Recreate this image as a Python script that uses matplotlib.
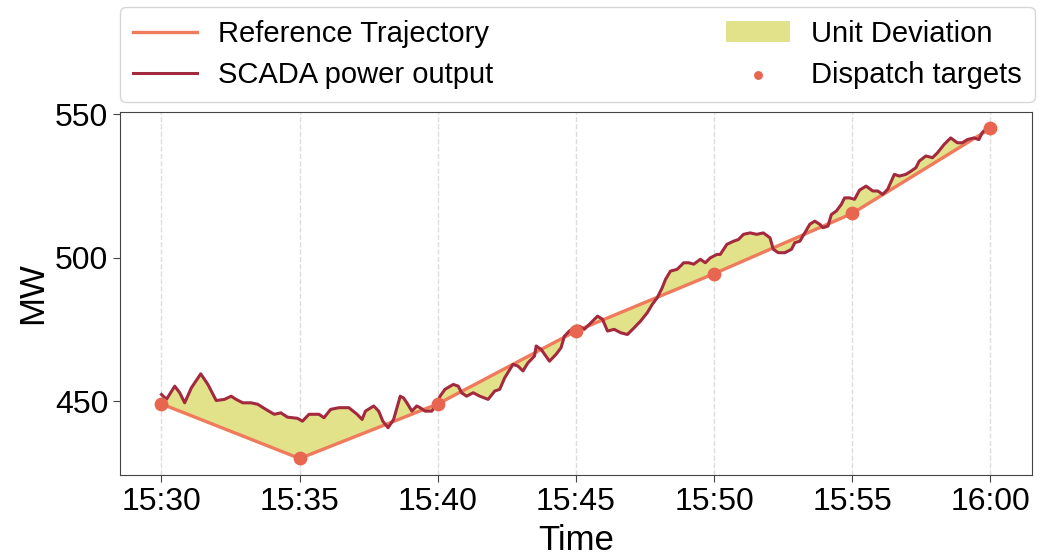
import numpy as np
import matplotlib
matplotlib.use("Agg")
import matplotlib.pyplot as plt

plt.rcParams['font.family'] = ['Liberation Sans', 'DejaVu Sans']

# minutes after 15:30
tick_minutes = [0, 5, 10, 15, 20, 25, 30]
tick_labels = ['15:30', '15:35', '15:40', '15:45', '15:50', '15:55', '16:00']

# dispatch targets (MW) at each 5-minute mark
target_minutes = [0, 5, 10, 15, 20, 25, 30]
target_mw = [449.0, 430.0, 449.0, 474.4, 494.4, 515.4, 545.0]

# SCADA power output
scada_minutes = [
    0.00, 0.18, 0.48, 0.66, 0.84, 1.08, 1.42, 1.68, 1.98, 2.28,
    2.52, 2.70, 2.94, 3.24, 3.48, 3.78, 4.08, 4.32, 4.56, 4.92,
    5.10, 5.34, 5.70, 5.88, 6.12, 6.42, 6.78, 7.08, 7.26, 7.38,
    7.68, 7.86, 8.01, 8.20, 8.40, 8.52, 8.64, 8.76, 8.88, 9.06,
    9.24, 9.36, 9.54, 9.78, 9.96, 10.08, 10.26, 10.56, 10.74, 10.86,
    11.04, 11.28, 11.52, 11.82, 12.06, 12.24, 12.42, 12.72, 12.90, 13.08,
    13.26, 13.50, 13.56, 13.74, 14.04, 14.28, 14.46, 14.58, 14.76, 15.00,
    15.12, 15.30, 15.48, 15.78, 15.96, 16.14, 16.38, 16.62, 16.86, 17.10,
    17.34, 17.58, 17.76, 17.94, 18.12, 18.24, 18.42, 18.66, 18.90, 19.08,
    19.26, 19.50, 19.68, 19.86, 20.10, 20.22, 20.46, 20.70, 20.88, 21.06,
    21.30, 21.54, 21.78, 22.02, 22.14, 22.32, 22.56, 22.80, 22.92, 23.10,
    23.28, 23.46, 23.64, 23.82, 23.94, 24.12, 24.24, 24.42, 24.60, 24.72,
    24.90, 25.08, 25.26, 25.50, 25.74, 25.92, 26.10, 26.28, 26.52, 26.70,
    26.94, 27.12, 27.30, 27.42, 27.66, 27.90, 28.08, 28.32, 28.56, 28.80,
    28.98, 29.16, 29.40, 29.58, 29.70, 29.82, 30.00,
]
scada_mw = [
    452.3, 450.6, 455.2, 452.9, 449.4, 454.6, 459.5, 455.8, 450.2, 450.6,
    451.7, 450.6, 449.4, 449.4, 448.9, 447.1, 445.4, 445.9, 444.4, 444.0,
    443.0, 445.4, 445.4, 444.2, 447.1, 447.7, 447.7, 445.4, 443.6, 446.5,
    448.3, 446.5, 443.0, 440.7, 443.6, 447.7, 451.7, 451.1, 449.4, 446.5,
    448.3, 447.7, 446.5, 446.5, 448.9, 451.7, 454.1, 455.8, 455.2, 452.9,
    451.7, 452.9, 451.7, 450.6, 453.5, 454.1, 458.1, 462.8, 462.2, 460.5,
    463.3, 465.7, 469.2, 468.0, 463.9, 466.3, 468.6, 472.6, 474.4, 476.1,
    476.1, 475.0, 476.7, 479.6, 478.5, 474.4, 475.0, 473.8, 473.2, 475.5,
    477.9, 480.8, 483.7, 486.0, 489.5, 492.4, 495.3, 495.9, 498.2, 498.2,
    497.7, 499.4, 498.2, 499.9, 501.1, 501.1, 504.6, 505.7, 506.3, 508.1,
    508.6, 508.1, 508.6, 506.9, 502.9, 501.7, 501.7, 502.9, 505.2, 505.7,
    508.6, 511.6, 512.7, 511.6, 510.4, 511.0, 515.0, 516.2, 518.5, 520.8,
    520.8, 520.3, 523.5, 524.9, 523.2, 523.2, 522.0, 523.8, 529.0, 528.4,
    529.0, 530.1, 531.3, 533.6, 535.4, 534.8, 536.5, 539.4, 541.7, 540.0,
    540.0, 541.1, 541.7, 541.1, 543.5, 544.7, 544.1,
]

t = np.array(scada_minutes)
scada = np.array(scada_mw)
ref = np.interp(t, target_minutes, target_mw)

fig = plt.figure(figsize=(10.41, 5.56), dpi=100)
ax = fig.add_axes([0.1153, 0.1457, 0.876, 0.653])

ax.fill_between(t, scada, ref, color='#e2e28a', linewidth=0,
                label='Unit Deviation', zorder=1)
ax.plot(target_minutes, target_mw, color='#f07a5c', lw=2.4,
        label='Reference Trajectory', zorder=2)
ax.plot(t, scada, color='#a3293f', lw=2.2,
        label='SCADA power output', zorder=3)
ax.scatter(target_minutes, target_mw, s=80, color='#e8664f',
           label='Dispatch targets', zorder=4)

ax.set_xticks(tick_minutes)
ax.set_xticklabels(tick_labels)
ax.set_yticks([450, 500, 550])
ax.tick_params(labelsize=23, length=5, color='#444444')
ax.grid(axis='x', linestyle='--', color='#dddddd', lw=1)
ax.set_axisbelow(True)
for s in ax.spines.values():
    s.set_color('#444444')

ax.set_xlabel('Time', fontsize=25, labelpad=5)
ax.set_ylabel('MW', fontsize=25, labelpad=4)

handles, labels = ax.get_legend_handles_labels()
order = ['Reference Trajectory', 'SCADA power output',
         'Unit Deviation', 'Dispatch targets']
hmap = dict(zip(labels, handles))
ax.legend([hmap[k] for k in order], order,
          bbox_to_anchor=(0, 1.027, 1.003, 0.26), loc='lower left',
          mode='expand', ncol=2, fontsize=21, markerscale=0.6,
          borderaxespad=0, handlelength=2.2, handletextpad=0.7,
          labelspacing=0.45, borderpad=0.45)

fig.savefig('out.png', dpi=100)
